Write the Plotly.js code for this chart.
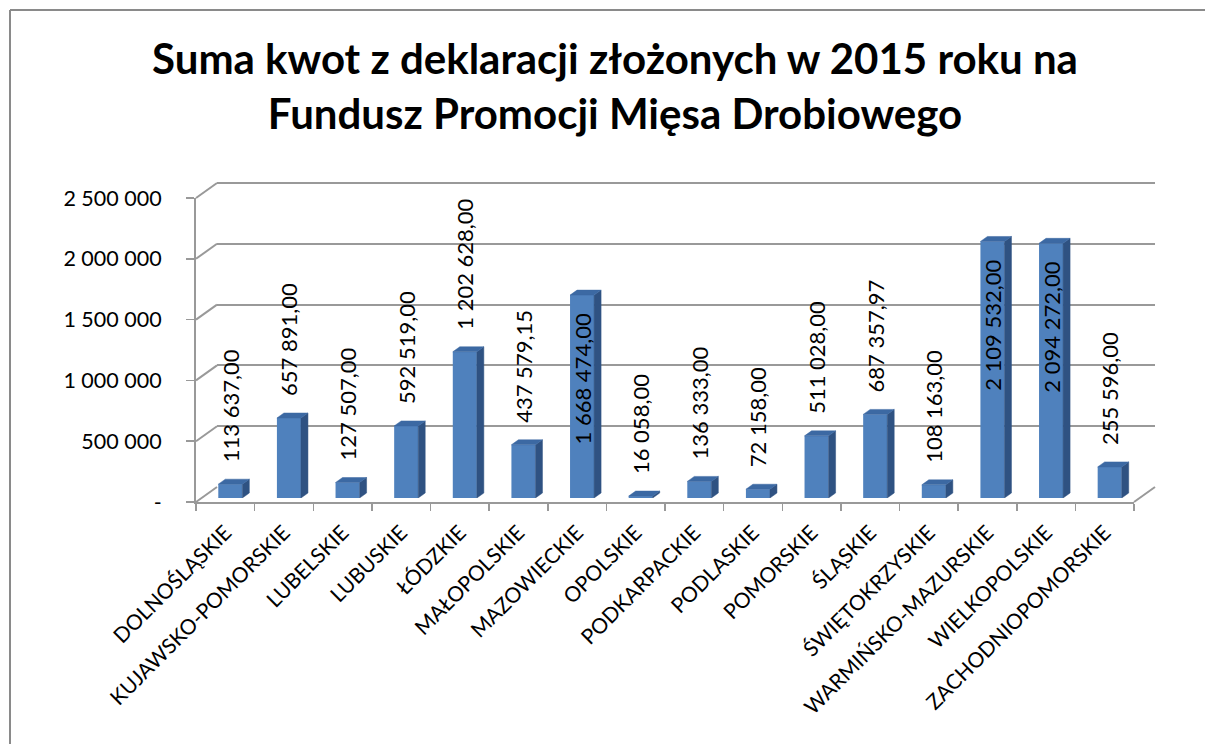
<!DOCTYPE html>
<html>
<head>
<meta charset="utf-8">
<script src="https://cdn.plot.ly/plotly-3.0.1.min.js"></script>
<style>html,body{margin:0;padding:0;background:#fff;}#chart{width:1205px;height:744px;}</style>
</head>
<body>
<div id="chart"></div>
<script>
// ---- data ----
const categories = ['DOLNOŚLĄSKIE','KUJAWSKO-POMORSKIE','LUBELSKIE','LUBUSKIE','ŁÓDZKIE','MAŁOPOLSKIE','MAZOWIECKIE','OPOLSKIE','PODKARPACKIE','PODLASKIE','POMORSKIE','ŚLĄSKIE','ŚWIĘTOKRZYSKIE','WARMIŃSKO-MAZURSKIE','WIELKOPOLSKIE','ZACHODNIOPOMORSKIE'];
const values = [113637.00, 657891.00, 127507.00, 592519.00, 1202628.00, 437579.15, 1668474.00, 16058.00, 136333.00, 72158.00, 511028.00, 687357.97, 108163.00, 2109532.00, 2094272.00, 255596.00];
const yTickValues = [0, 500000, 1000000, 1500000, 2000000, 2500000];
const yTickLabels = ['-', '500 000', '1 000 000', '1 500 000', '2 000 000', '2 500 000'];
const titleText = 'Suma kwot z deklaracji złożonych w 2015 roku na<br>Fundusz Promocji Mięsa Drobiowego';

// ---- geometry (pixels) ----
const W = 1205, H = 744;
const YMAX = 2500000;
const front = {x0: 196, x1: 1134, z: 502, t: 198};
const mid   = {x0: 201, x1: 1139, z: 498, t: 194};
const back  = {x0: 217, x1: 1155, z: 487, t: 183};
const fx = p => p / W;
const fy = p => 1 - p / H;
const pxPerUnit = (front.z - front.t) / YMAX;
const catW = (front.x1 - front.x0) / categories.length;
const barW = 0.41;
const depthX = 7 / catW;          // side-face offset in category units
const depthY = 5 / pxPerUnit;     // top-face offset in value units
const FONT = 'Lato, "Open Sans", sans-serif';
const EXTRA = 4 / pxPerUnit;      // small headroom so the top gridline is drawn

const idx = categories.map((_, i) => i);
const h = barW / 2;

// side & top faces of the 3D bars, derived from the values
const sideX = [], sideY = [], topX = [], topY = [];
values.forEach((v, i) => {
  sideX.push(i + h, i + h, i + h + depthX, i + h + depthX, i + h, null);
  sideY.push(0, v, v + depthY, depthY, 0, null);
  topX.push(i - h, i + h, i + h + depthX, i - h + depthX, i - h, null);
  topY.push(v, v, v + depthY, v + depthY, v, null);
});

// labels: inside the tallest bars, above the others
const insideLimit = 1500000;
const gapOut = 19 / pxPerUnit;
const gapIn = 15 / pxPerUnit;
const labelBase = values.map(v => v > insideLimit ? 0 : v);
const labelLen  = values.map(v => v > insideLimit ? v - gapIn : gapOut);
const labelPos  = values.map(v => v > insideLimit ? 'inside' : 'outside');

const traces = [
  // back wall subplot (gridlines only)
  {type: 'scatter', x: [0], y: [0], xaxis: 'x', yaxis: 'y', mode: 'markers',
   marker: {opacity: 0}, hoverinfo: 'skip', showlegend: false},
  // bars
  {type: 'bar', x: idx, y: values, xaxis: 'x2', yaxis: 'y2', width: barW,
   marker: {color: '#4f81bd', line: {width: 0}}, showlegend: false, hoverinfo: 'skip'},
  {type: 'scatter', x: sideX, y: sideY, xaxis: 'x2', yaxis: 'y2', mode: 'lines',
   fill: 'toself', fillcolor: '#2f5282', line: {width: 0.5, color: '#2f5282'},
   showlegend: false, hoverinfo: 'skip'},
  {type: 'scatter', x: topX, y: topY, xaxis: 'x2', yaxis: 'y2', mode: 'lines',
   fill: 'toself', fillcolor: '#3c69a3', line: {width: 0.5, color: '#3c69a3'},
   showlegend: false, hoverinfo: 'skip'},
  // data labels
  {type: 'bar', x: idx, y: labelLen, base: labelBase, customdata: values,
   xaxis: 'x2', yaxis: 'y2', width: barW,
   marker: {color: 'rgba(0,0,0,0)'}, texttemplate: '%{customdata:,.2f}',
   textposition: labelPos, textangle: -90, insidetextanchor: 'end',
   constraintext: 'none', cliponaxis: false,
   textfont: {family: FONT, size: 22, color: '#000'},
   showlegend: false, hoverinfo: 'skip'},
  // front axes subplot
  {type: 'scatter', x: categories, y: categories.map(() => 0), xaxis: 'x3', yaxis: 'y3',
   mode: 'markers', marker: {opacity: 0}, hoverinfo: 'skip', showlegend: false}
];

// connector lines of the left wall and floor
const shapes = [];
const gridCol = '#999999';
yTickValues.forEach(v => {
  shapes.push({type: 'line', xref: 'paper', yref: 'paper',
    x0: fx(front.x0), y0: fy(front.z - v * pxPerUnit),
    x1: fx(back.x0), y1: fy(back.z - v * pxPerUnit),
    line: {color: gridCol, width: 2}});
});
shapes.push({type: 'line', xref: 'paper', yref: 'paper',
  x0: fx(front.x1), y0: fy(front.z), x1: fx(back.x1), y1: fy(back.z),
  line: {color: gridCol, width: 2}});
// chart border (top and left)
shapes.push({type: 'line', xref: 'paper', yref: 'paper', x0: fx(10), y0: fy(10), x1: 1.02, y1: fy(10), line: {color: '#8a8a8a', width: 2}});
shapes.push({type: 'line', xref: 'paper', yref: 'paper', x0: fx(10), y0: fy(10), x1: fx(10), y1: -0.02, line: {color: '#8a8a8a', width: 2}});

const hidden = {showgrid: false, zeroline: false, showline: false, showticklabels: false, ticks: ''};

const layout = {
  width: W, height: H,
  margin: {l: 0, r: 0, t: 0, b: 0},
  paper_bgcolor: '#ffffff', plot_bgcolor: 'rgba(0,0,0,0)',
  separators: ', ',
  barmode: 'overlay',
  showlegend: false,
  font: {family: FONT, color: '#000'},
  title: {text: titleText, x: fx(615), xanchor: 'center', y: fy(74), yanchor: 'top',
          font: {family: FONT, size: 42, color: '#000', weight: 'bold'}},
  xaxis: Object.assign({}, hidden, {domain: [fx(back.x0), fx(back.x1)], range: [-0.5, 15.5], anchor: 'y'}),
  yaxis: Object.assign({}, hidden, {domain: [fy(back.z), fy(back.t - 4)], range: [0, YMAX + EXTRA], anchor: 'x',
          showgrid: true, gridcolor: gridCol, gridwidth: 2, tickvals: yTickValues}),
  xaxis2: Object.assign({}, hidden, {domain: [fx(mid.x0), fx(mid.x1)], range: [-0.5, 15.5], anchor: 'y2'}),
  yaxis2: Object.assign({}, hidden, {domain: [fy(mid.z), fy(mid.t)], range: [0, YMAX], anchor: 'x2'}),
  xaxis3: {domain: [fx(front.x0), fx(front.x1)], anchor: 'y3', type: 'category',
           categoryorder: 'array', categoryarray: categories, range: [-0.5, 15.5],
           showgrid: false, zeroline: false, showline: true, linecolor: gridCol, linewidth: 2,
           ticks: 'outside', tickson: 'boundaries', ticklen: 7, tickcolor: gridCol, tickwidth: 1.5,
           ticklabelstandoff: 8,
           tickangle: -45, tickfont: {family: FONT, size: 21, color: '#000'}},
  yaxis3: {domain: [fy(front.z), fy(front.t)], anchor: 'x3', range: [0, YMAX],
           showgrid: false, zeroline: false, showline: true, linecolor: gridCol, linewidth: 2,
           ticks: 'outside', ticklen: 8, tickcolor: gridCol, tickwidth: 1.5,
           tickvals: yTickValues, ticktext: yTickLabels, ticklabelstandoff: 20,
           tickfont: {family: FONT, size: 21.5, color: '#000'}},
  shapes: shapes
};

Plotly.newPlot('chart', traces, layout, {staticPlot: true});
</script>
</body>
</html>
